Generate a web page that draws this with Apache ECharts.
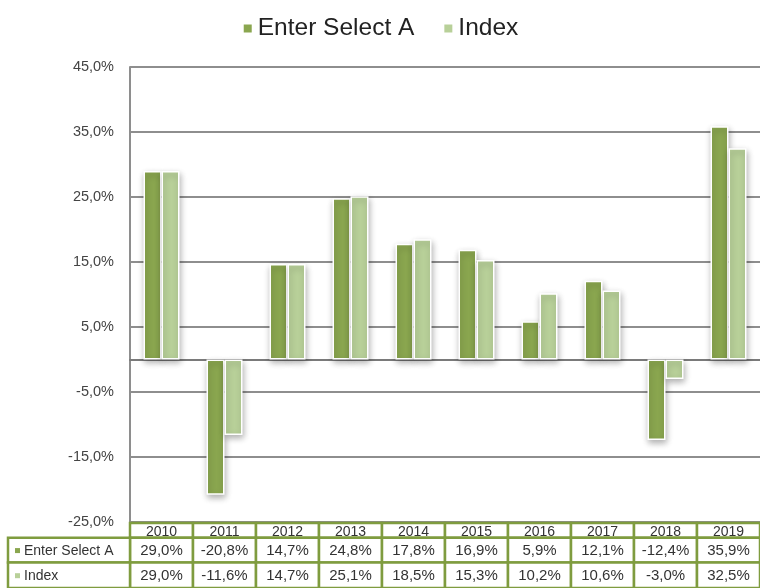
<!DOCTYPE html>
<html>
<head>
<meta charset="utf-8">
<script src="https://cdn.jsdelivr.net/npm/echarts@6/dist/echarts.min.js"></script>
<style>
  html, body { margin: 0; padding: 0; background: #fff; }
  #chart { width: 760px; height: 588px; }
</style>
</head>
<body>
<div id="chart"></div>
<script>
const years = ['2010', '2011', '2012', '2013', '2014', '2015', '2016', '2017', '2018', '2019']
const seriesNames = ['Enter Select A', 'Index']
const fundValues = [29.0, -20.8, 14.7, 24.8, 17.8, 16.9, 5.9, 12.1, -12.4, 35.9]
const indexValues = [29.0, -11.6, 14.7, 25.1, 18.5, 15.3, 10.2, 10.6, -3.0, 32.5]

const darkGreen = '#8aa64f'
const lightGreen = '#b8d099'
const tableBorder = '#7f9c3f'
const gridGray = '#8e8e8e'
const fontFamily = 'Liberation Sans, Arial, sans-serif'

// row edges of the data table (header, series 1, series 2)
const rowEdges = [0, 15, 40, 66]

const pct = v => v.toFixed(1).replace('.', ',') + '%'

// table cells: [yearIndex, row, text]
const tableData = []
years.forEach((y, i) => {
  tableData.push([i, 0, y])
  tableData.push([i, 1, pct(fundValues[i])])
  tableData.push([i, 2, pct(indexValues[i])])
})

const chart = echarts.init(document.getElementById('chart'))

const renderCell = (params, api) => {
  const i = api.value(0)
  const r = api.value(1)
  const text = tableData[params.dataIndex][2]
  const cx = api.coord([i, 0])[0]
  const w = api.size([1, 0])[0]
  const top = api.coord([i, rowEdges[r]])[1]
  const bottom = api.coord([i, rowEdges[r + 1]])[1]
  const children = [{
    type: 'rect',
    shape: { x: cx - w / 2, y: top, width: w, height: bottom - top },
    style: { fill: '#fff', stroke: tableBorder, lineWidth: 2.5 }
  }, {
    type: 'text',
    style: {
      x: cx, y: (top + bottom) / 2 + (r === 0 ? 1.5 : 1),
      text: text,
      align: 'center', verticalAlign: 'middle',
      fill: '#333', fontSize: r === 0 ? 14 : 15, fontFamily: fontFamily
    }
  }]
  // label column for the series rows
  if (i === 0 && r > 0) {
    const left = 8
    const right = cx - w / 2
    children.push({
      type: 'rect',
      shape: { x: left, y: top, width: right - left, height: bottom - top },
      style: { fill: '#fff', stroke: tableBorder, lineWidth: 2.5 }
    }, {
      type: 'rect',
      shape: { x: left + 7, y: (top + bottom) / 2 - 2, width: 5, height: 5 },
      style: { fill: r === 1 ? darkGreen : lightGreen }
    }, {
      type: 'text',
      style: {
        x: left + 16, y: (top + bottom) / 2 + 1,
        text: seriesNames[r - 1],
        align: 'left', verticalAlign: 'middle',
        fill: '#333', fontSize: 14, fontFamily: fontFamily
      }
    })
  }
  return { type: 'group', children: children }
}

const barStyle = color => ({
  color: color,
  borderColor: '#fff',
  borderWidth: 1.5,
  shadowBlur: 6,
  shadowColor: 'rgba(0, 0, 0, 0.3)',
  shadowOffsetX: 1,
  shadowOffsetY: 3
})

chart.setOption({
  animation: false,
  backgroundColor: '#fff',
  textStyle: { fontFamily: fontFamily },
  legend: {
    top: 11,
    left: 'center',
    itemWidth: 10,
    itemHeight: 10,
    itemGap: 28,
    icon: 'rect',
    textStyle: { fontSize: 24.5, color: '#222', fontFamily: fontFamily },
    data: seriesNames
  },
  grid: [
    { left: 130, right: -9, top: 67, bottom: 66 },
    { left: 130, right: -9, top: 523, bottom: -1 }
  ],
  xAxis: [{
    type: 'category',
    gridIndex: 0,
    data: years,
    axisLine: { onZero: true, lineStyle: { color: '#7a7a7a', width: 2 } },
    axisTick: { show: false },
    axisLabel: { show: false }
  }, {
    type: 'category',
    gridIndex: 1,
    data: years,
    show: false
  }],
  yAxis: [{
    type: 'value',
    gridIndex: 0,
    min: -25,
    max: 45,
    interval: 10,
    axisLine: { show: true, lineStyle: { color: gridGray, width: 2 } },
    axisTick: { show: false },
    axisLabel: {
      margin: 16,
      color: '#444',
      fontSize: 14.5,
      fontFamily: fontFamily,
      formatter: v => pct(v)
    },
    splitLine: { lineStyle: { color: gridGray, width: 2 } }
  }, {
    type: 'value',
    gridIndex: 1,
    min: 0,
    max: rowEdges[rowEdges.length - 1],
    inverse: true,
    show: false
  }],
  series: [{
    name: seriesNames[0],
    type: 'bar',
    data: fundValues,
    barWidth: 18,
    barGap: '0%',
    itemStyle: barStyle(darkGreen)
  }, {
    name: seriesNames[1],
    type: 'bar',
    data: indexValues,
    barWidth: 18,
    barGap: '0%',
    itemStyle: barStyle(lightGreen)
  }, {
    type: 'custom',
    xAxisIndex: 1,
    yAxisIndex: 1,
    clip: false,
    silent: true,
    renderItem: renderCell,
    data: tableData.map(d => [d[0], d[1]])
  }]
})
</script>
</body>
</html>
